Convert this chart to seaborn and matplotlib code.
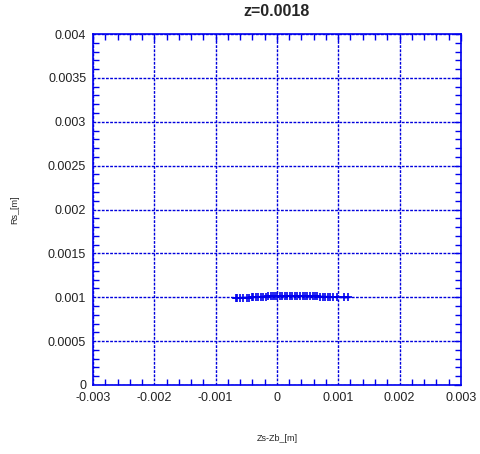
import matplotlib
matplotlib.use("Agg")
import matplotlib.pyplot as plt
from matplotlib.ticker import MultipleLocator, FixedLocator
import seaborn as sns
import pandas as pd

sns.set_theme(style="white")
plt.rcParams["font.family"] = ["Liberation Sans", "DejaVu Sans"]

title = "z=0.0018"
x_label = "Zs-Zb_[m]"
y_label = "Rs_[m]"

zs = [-0.000668, -0.000652, -0.000603, -0.000554, -0.000489, -0.000457, -0.000408,
      -0.000391, -0.000342, -0.000310, -0.000261, -0.000228, -0.000179, -0.000147,
      -0.000098, -0.000065, -0.000033, 0.000000, 0.000049, 0.000082, 0.000130,
      0.000163, 0.000212, 0.000245, 0.000293, 0.000326, 0.000375, 0.000424,
      0.000457, 0.000489, 0.000538, 0.000587, 0.000620, 0.000652, 0.000701,
      0.000750, 0.000783, 0.000832, 0.000864, 0.000913, 0.000978, 0.001092,
      0.001158]
rs = [0.000990, 0.000990, 0.000992, 0.000994, 0.000996, 0.000997, 0.000999,
      0.001000, 0.001002, 0.001003, 0.001005, 0.001006, 0.001008, 0.001009,
      0.001010, 0.001011, 0.001012, 0.001012, 0.001013, 0.001013, 0.001013,
      0.001013, 0.001013, 0.001013, 0.001013, 0.001013, 0.001012, 0.001012,
      0.001012, 0.001011, 0.001011, 0.001010, 0.001010, 0.001009, 0.001008,
      0.001007, 0.001006, 0.001005, 0.001004, 0.001003, 0.001001, 0.000999,
      0.000998]

x_ticks = [-0.003, -0.002, -0.001, 0, 0.001, 0.002, 0.003]
x_tick_labels = ["-0.003", "-0.002", "-0.001", "0", "0.001", "0.002", "0.003"]
y_ticks = [0, 0.0005, 0.001, 0.0015, 0.002, 0.0025, 0.003, 0.0035, 0.004]
y_tick_labels = ["0", "0.0005", "0.001", "0.0015", "0.002", "0.0025", "0.003", "0.0035", "0.004"]

df = pd.DataFrame({"zs": zs, "rs": rs})

fig = plt.figure(figsize=(4.8, 4.54), dpi=100)
ax = fig.add_axes([0.194, 0.152, 0.766, 0.773])

sns.lineplot(data=df, x="zs", y="rs", sort=False, ax=ax, color="#0000ee",
             linewidth=1.4, marker="+", markersize=6, markeredgewidth=1.2,
             markeredgecolor="#0000ee")

ax.set_xlim(-0.003, 0.003)
ax.set_ylim(0, 0.004)
ax.xaxis.set_major_locator(FixedLocator(x_ticks))
ax.set_xticklabels(x_tick_labels)
ax.yaxis.set_major_locator(FixedLocator(y_ticks))
ax.set_yticklabels(y_tick_labels)
ax.xaxis.set_minor_locator(MultipleLocator(0.0002))
ax.yaxis.set_minor_locator(MultipleLocator(0.0001))

ax.grid(True, which="major", color="#0000dd", linestyle=(0, (2.0, 1.0)), linewidth=1.0)
for s in ax.spines.values():
    s.set_color("#0000ee")
    s.set_linewidth(1.2)

ax.tick_params(which="both", direction="in", top=True, right=True, color="#0000ee",
               labelsize=9, labelcolor="#222222")
ax.tick_params(which="major", length=5, width=1)
ax.tick_params(which="minor", length=4, width=1, left=True, bottom=True)
ax.tick_params(axis="x", pad=5)
ax.tick_params(axis="y", pad=5)

ax.set_title(title, fontsize=11.5, fontweight="bold", pad=13)
ax.set_xlabel(x_label, fontsize=6.5, labelpad=22)
ax.set_ylabel(y_label, fontsize=6.5, labelpad=21)

fig.savefig("out.png", dpi=100)
